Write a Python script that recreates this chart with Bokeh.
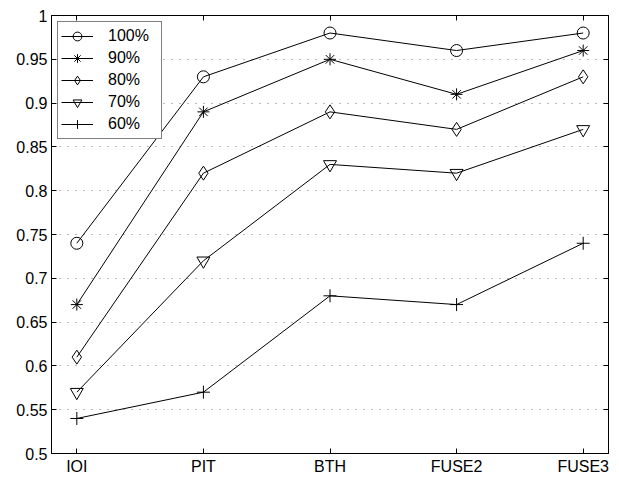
from bokeh.plotting import figure
from bokeh.models import (LinearAxis, FixedTicker, Range1d, Legend, LegendItem)
from bokeh.embed import file_html
from bokeh.resources import INLINE

categories = ["IOI", "PIT", "BTH", "FUSE2", "FUSE3"]
series_names = ["100%", "90%", "80%", "70%", "60%"]
s100 = [0.74, 0.93, 0.98, 0.96, 0.98]
s90 = [0.67, 0.89, 0.95, 0.91, 0.96]
s80 = [0.61, 0.82, 0.89, 0.87, 0.93]
s70 = [0.57, 0.72, 0.83, 0.82, 0.87]
s60 = [0.54, 0.57, 0.68, 0.67, 0.74]
y_ticks = [0.5, 0.55, 0.6, 0.65, 0.7, 0.75, 0.8, 0.85, 0.9, 0.95, 1.0]
y_tick_labels = ["0.5", "0.55", "0.6", "0.65", "0.7", "0.75", "0.8", "0.85", "0.9", "0.95", "1"]

xs = list(range(1, len(categories) + 1))
FONT = "Liberation Sans"
FS = "16px"

p = figure(width=619, height=477, output_backend="svg", toolbar_location=None,
           x_range=Range1d(0.8, 5.2), y_range=Range1d(0.5, 1.0),
           min_border_left=51, min_border_right=11, min_border_top=15, min_border_bottom=24,
           x_axis_location=None, y_axis_location=None)
p.background_fill_color = "white"
p.border_fill_color = "white"
p.outline_line_color = "black"
p.outline_line_width = 1
p.xgrid.visible = False

xt = FixedTicker(ticks=xs)
yt = FixedTicker(ticks=y_ticks)
x_over = {x: c for x, c in zip(xs, categories)}
y_over = {t: l for t, l in zip(y_ticks, y_tick_labels)}

def style_axis(ax, show_labels):
    ax.axis_line_color = "black"
    ax.axis_line_width = 1
    ax.major_tick_in = 5
    ax.major_tick_out = 0
    ax.major_tick_line_color = "black"
    ax.minor_tick_line_color = None
    ax.major_label_text_font = FONT
    if show_labels:
        ax.major_label_text_color = "black"
        ax.major_label_text_font_size = FS
        ax.major_label_standoff = 4
    else:
        ax.major_label_text_color = None
        ax.major_label_text_font_size = "1px"
        ax.major_label_standoff = 0

bottom = LinearAxis(ticker=xt, major_label_overrides=x_over)
style_axis(bottom, True)
left = LinearAxis(ticker=yt, major_label_overrides=y_over)
style_axis(left, True)
top = LinearAxis(ticker=xt)
style_axis(top, False)
right = LinearAxis(ticker=yt)
style_axis(right, False)
p.add_layout(bottom, "below")
p.add_layout(left, "left")
p.add_layout(top, "above")
p.add_layout(right, "right")

p.ygrid.ticker = yt
p.ygrid.grid_line_color = "#777777"
p.ygrid.grid_line_dash = "1 7"
p.ygrid.grid_line_width = 1

series = [s100, s90, s80, s70, s60]
markers = ["circle", "asterisk", "diamond", "inverted_triangle", "cross"]
sizes = [12, 12, 14, 13, 13]
items = []
for name, vals, m, sz in zip(series_names, series, markers, sizes):
    l = p.line(xs, vals, line_color="black", line_width=1)
    s = p.scatter(xs, vals, marker=m, size=sz, fill_color=None, line_color="black", line_width=1)
    items.append(LegendItem(label=name, renderers=[l, s]))

legend = Legend(items=items, location="top_left")
legend.border_line_color = "black"
legend.border_line_width = 1
legend.background_fill_color = "white"
legend.background_fill_alpha = 1
legend.label_text_font = FONT
legend.label_text_font_size = FS
legend.label_text_color = "black"
legend.glyph_width = 32
legend.glyph_height = 22
legend.label_height = 22
legend.label_width = 50
legend.spacing = -2
legend.padding = 3
legend.margin = 6
legend.label_standoff = 15
p.add_layout(legend, "center")

open("out.html", "w").write(file_html(p, INLINE))
